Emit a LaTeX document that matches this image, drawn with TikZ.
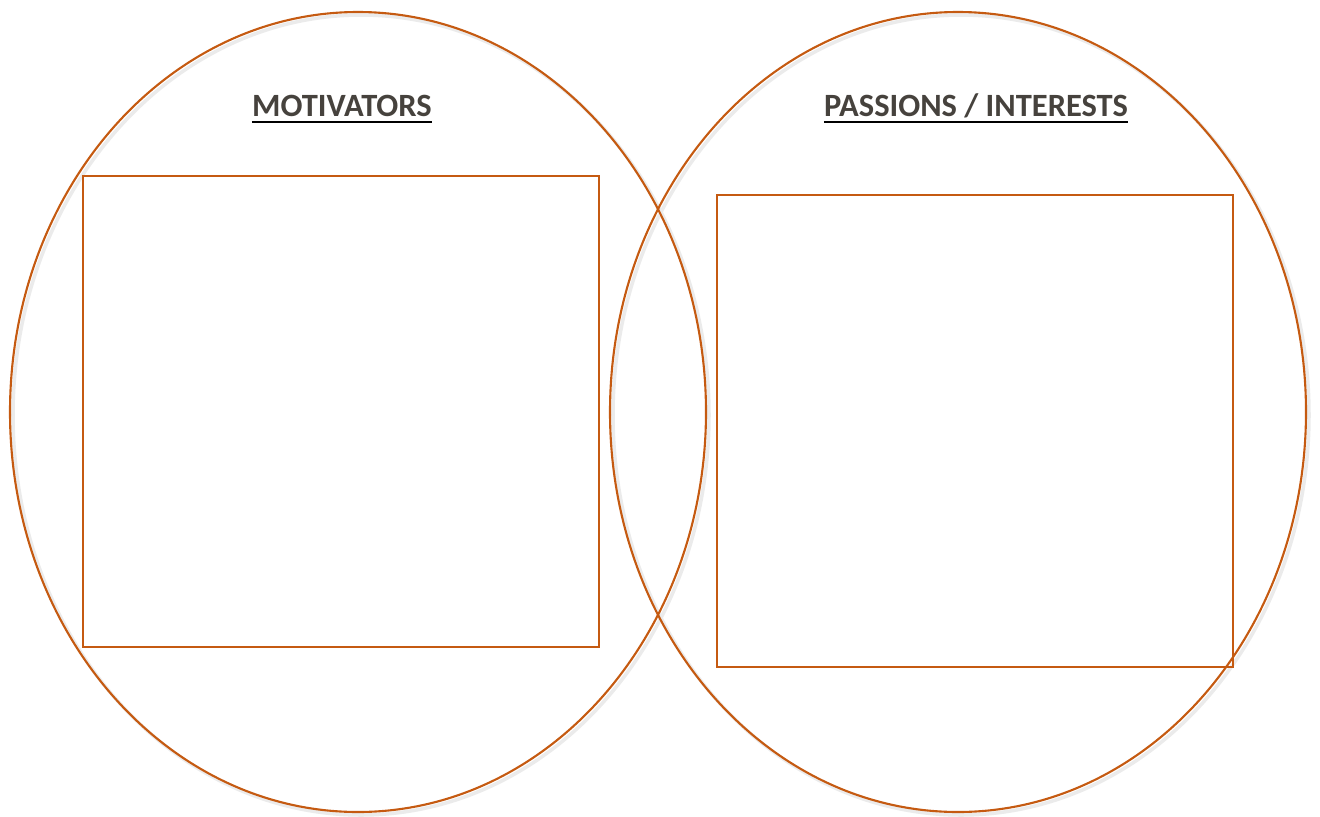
\documentclass[tikz,border=0pt]{standalone}
\usepackage{fontspec}
\setmainfont{Carlito}
\definecolor{venn}{HTML}{C55A11}
\definecolor{heading}{HTML}{46423D}
\tikzset{
  ring/.style={draw=venn,line width=1.2pt},
  box/.style={draw=venn,line width=1.1pt},
  title/.style={text=heading,font=\fontsize{18.5}{22}\selectfont\bfseries,inner sep=0pt}
}
\begin{document}
\begin{tikzpicture}[x=0.02cm,y=-0.02cm]
\useasboundingbox (0,0) rectangle (1320,816);

% soft shadow behind the two circles
\draw[black!8,line width=2pt] (361,415) ellipse (348 and 400);
\draw[black!8,line width=2pt] (961,415) ellipse (348 and 400);

\draw[ring] (358,412) ellipse (348 and 400);
\draw[ring] (958,412) ellipse (348 and 400);

\draw[box] (83,176) rectangle (599,647);
\draw[box] (717,195) rectangle (1233,667);

\node[title,anchor=base] (motiv) at (342,116) {MOTIVATORS};
\node[title,anchor=base] (pass) at (976,116) {PASSIONS / INTERESTS};

\draw[line width=1.5pt] ([yshift=-3.5pt]motiv.base west) -- ([yshift=-3.5pt]motiv.base east);
\draw[line width=1.5pt] ([yshift=-3.5pt]pass.base west) -- ([yshift=-3.5pt]pass.base east);

\end{tikzpicture}
\end{document}
